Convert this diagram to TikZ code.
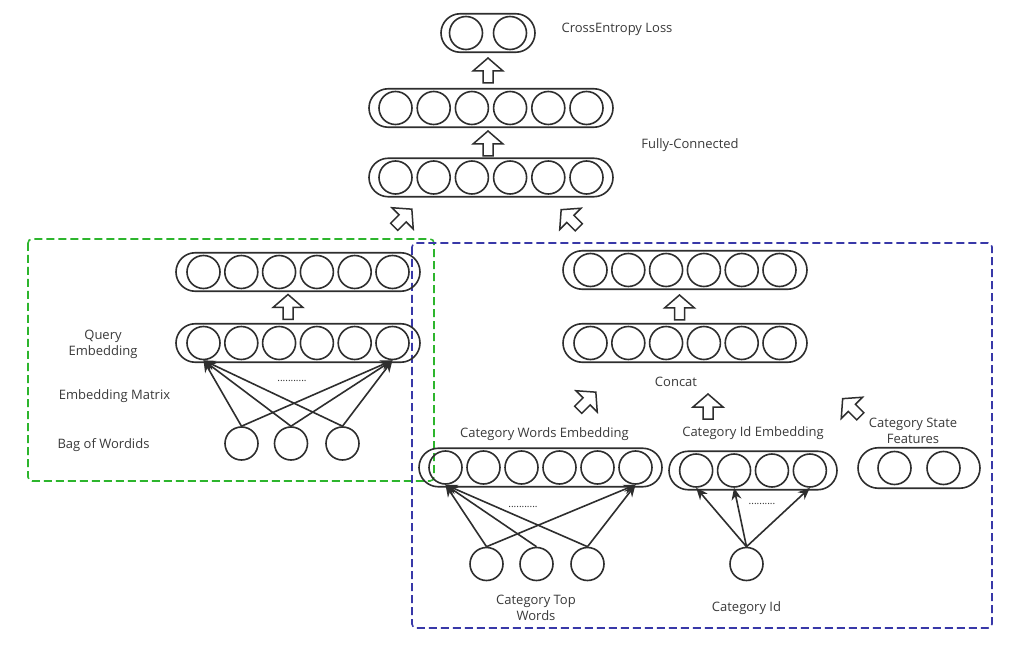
\documentclass[tikz,border=0pt]{standalone}
\usepackage{fontspec}
\setmainfont{Open Sans}
\usetikzlibrary{arrows.meta,shapes.misc}
\definecolor{lc}{HTML}{2E2E2E}
\definecolor{tc}{HTML}{3A3A3A}
\definecolor{gboxc}{HTML}{2DB52D}
\definecolor{bboxc}{HTML}{3838A8}
\tikzset{
  bar/.style={rounded rectangle, draw=lc, line width=1.6pt, minimum height=38.5pt, inner sep=0pt},
  neuron/.style={circle, draw=lc, line width=1.6pt, minimum size=33pt, inner sep=0pt},
  conn/.style={draw=lc, line width=1.6pt, -{Stealth[length=12pt,width=10pt]}},
  lbl/.style={text=tc, font=\fontsize{13}{16}\selectfont, align=center, inner sep=0pt, yshift=-1.5pt},
  dotlbl/.style={text=lc, font=\fontsize{10}{12}\selectfont, inner sep=0pt},
  gdash/.style={draw=gboxc, line width=1.6pt, dash pattern=on 8pt off 4pt, rounded corners=4pt},
  bdash/.style={draw=bboxc, line width=1.6pt, dash pattern=on 8pt off 4pt, rounded corners=4pt},
  hollowarrow/.pic={\draw[draw=lc, line width=1.5pt, line join=miter, fill=white]
    (0,-12.5) -- (15,0.5) -- (5,0.5) -- (5,12.5) -- (-5,12.5) -- (-5,0.5) -- (-15,0.5) -- cycle;}
}
\newcommand{\nnlayer}[7]{%
  \node[bar, minimum width=#4pt, minimum height=#5pt] (#1) at (#2,#3) {};
  \foreach \i in {1,...,#6}{\node[neuron] (#1-\i) at ({#2+(\i-(#6+1)/2)*#7},#3) {};}
}
\begin{document}
\begin{tikzpicture}[x=1pt,y=-1pt]
\useasboundingbox[fill=white] (0,0) rectangle (1021,655);

% dashed groups
\draw[gdash] (28,239) rectangle (434,481);
\draw[bdash] (412,243) rectangle (992,628);

% top layers
\nnlayer{loss}{488}{33}{94}{38.5}{2}{44}
\nnlayer{fcb}{491}{108}{244}{38.5}{6}{38.2}
\nnlayer{fca}{491}{177.5}{244}{38.5}{6}{38.2}
\pic at (488,70.5) {hollowarrow};
\pic at (488,143.5) {hollowarrow};
\pic[rotate=-45] at (403,218) {hollowarrow};
\pic[rotate=45] at (570,218.5) {hollowarrow};
\node[lbl] (tloss) at (617,28) {CrossEntropy Loss};
\node[lbl] (tfc) at (690,144) {Fully-Connected};

% left (query) part
\nnlayer{qt}{298}{272}{244}{38.5}{6}{37.8}
\nnlayer{qe}{298}{343}{244}{38.5}{6}{37.8}
\pic at (288,307) {hollowarrow};
\node[neuron] (b1) at (241.5,443.5) {};
\node[neuron] (b2) at (291,443.5) {};
\node[neuron] (b3) at (342.5,443.5) {};
\foreach \s in {b1,b2,b3}{
  \draw[conn] (\s.north) -- (qe-1.south);
  \draw[conn] (\s.north) -- (qe-6.south);
}
\node[dotlbl] (qdots) at (292,381) {...........};
\node[lbl] (tq) at (103,343) {Query\\Embedding};
\node[lbl] (tem) at (114.5,395) {Embedding Matrix};
\node[lbl] (tbag) at (103.5,443.5) {Bag of Wordids};

% right (category) part
\nnlayer{ct}{685}{270}{244}{38.5}{6}{37.8}
\nnlayer{cc}{685}{343}{244}{38.5}{6}{37.8}
\pic at (679.5,307.5) {hollowarrow};
\node[lbl] (tconcat) at (676,380.5) {Concat};
\pic[rotate=-45] at (587,401) {hollowarrow};
\pic at (708,406.5) {hollowarrow};
\pic[rotate=45] at (851.5,407.5) {hollowarrow};

\nnlayer{cw}{540.5}{467.5}{243}{38.5}{6}{38}
\nnlayer{ci}{753}{470.5}{168}{38.5}{4}{37.9}
\nnlayer{cs}{919}{468}{122}{40.5}{2}{49}

\node[lbl] (tcw) at (544.5,432.5) {Category Words Embedding};
\node[lbl] (tci) at (753,431.5) {Category Id Embedding};
\node[lbl] (tcs) at (913,429.5) {Category State\\Features};

\node[neuron] (w1) at (486.5,564) {};
\node[neuron] (w2) at (536.5,564) {};
\node[neuron] (w3) at (587.5,564) {};
\draw[conn] (w1.north) -- (cw-1.south);
\draw[conn] (w1.north) -- (cw-6.south);
\draw[conn] (w2.north) -- (cw-1.south);
\draw[conn] (w3.north) -- (cw-1.south);
\draw[conn] (w3.north) -- (cw-6.south);
\node[dotlbl] (wdots) at (523,507) {...........};

\node[neuron] (cid) at (746.5,564) {};
\draw[conn] (cid.north) -- (ci-1.south);
\draw[conn] (cid.north) -- (ci-2.south);
\draw[conn] (cid.north) -- (ci-4.south);
\node[dotlbl] (idots) at (762,504) {..........};

\node[lbl] (tctw) at (536,606) {Category Top\\Words};
\node[lbl] (tcid) at (746.5,606.5) {Category Id};
\end{tikzpicture}
\end{document}
